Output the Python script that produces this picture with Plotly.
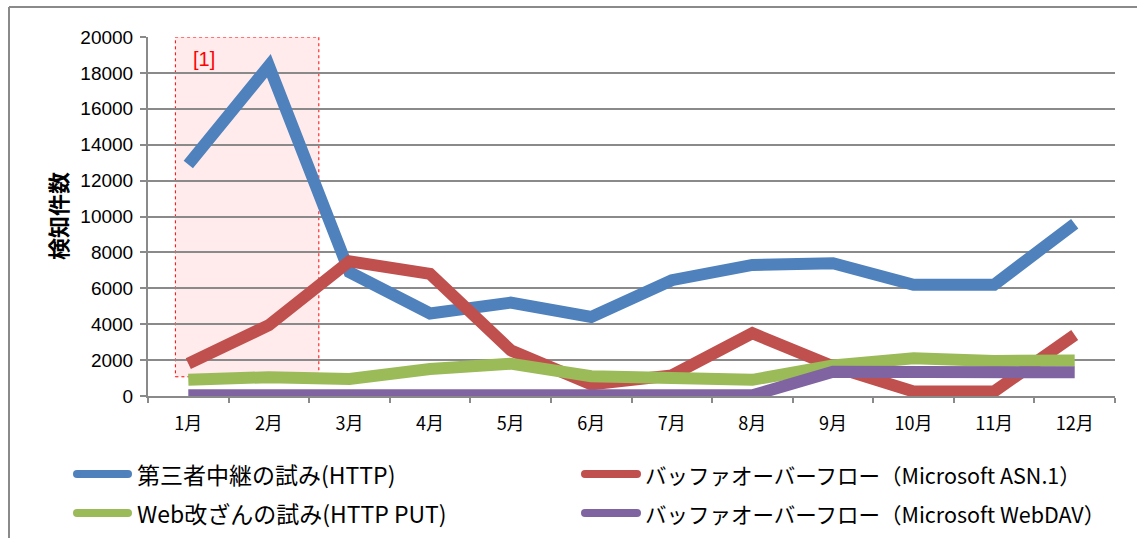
import plotly.graph_objects as go

# Monthly detection counts per attack type
months = ["1月", "2月", "3月", "4月", "5月", "6月", "7月", "8月", "9月", "10月", "11月", "12月"]

relay_http = [12900, 18400, 6900, 4600, 5200, 4400, 6450, 7300, 7400, 6200, 6200, 9600]
overflow_asn1 = [1800, 3950, 7500, 6800, 2550, 650, 1150, 3500, 1650, 250, 250, 3400]
web_put = [900, 1050, 950, 1500, 1800, 1100, 1000, 900, 1700, 2100, 1950, 1980]
overflow_webdav = [40, 40, 40, 40, 40, 40, 40, 40, 1350, 1350, 1280, 1320]

series_names = [
    "第三者中継の試み(HTTP)",
    "バッファオーバーフロー（Microsoft ASN.1）",
    "Web改ざんの試み(HTTP PUT)",
    "バッファオーバーフロー（Microsoft WebDAV）",
]
series_values = [relay_http, overflow_asn1, web_put, overflow_webdav]
series_colors = ["#4F81BD", "#C0504D", "#9BBB59", "#8064A2"]

y_ticks = [0, 2000, 4000, 6000, 8000, 10000, 12000, 14000, 16000, 18000, 20000]

# Highlighted period [1]
highlight_label = "[1]"
highlight_x = (-0.16, 1.62)
highlight_y = (1070, 20000)

num_font = "Liberation Sans, Arial, Noto Sans CJK JP"
jp_font = "Noto Sans CJK JP, Liberation Sans"

W, H = 1137, 538
L, R, T, B = 148, 22, 37, 142
pw, ph = W - L - R, H - T - B

def px_x(p):
    return (p - L) / pw

def px_y(p):
    return (H - B - p) / ph

# 2x2 key below the plot: (sample start, sample end, text start, row centre, font size) in pixels
key_slots = [
    (73, 132, 135, 474, 23),
    (581, 641, 643, 474, 21.5),
    (73, 132, 135, 513, 23),
    (581, 641, 643, 513, 21.5),
]

fig = go.Figure()

for name, vals, color in zip(series_names, series_values, series_colors):
    fig.add_trace(go.Scatter(
        x=months, y=vals, name=name, mode="lines",
        line=dict(color=color, width=12),
        showlegend=False,
    ))

shapes = [
    # highlighted region
    dict(type="rect", xref="x", yref="y",
         x0=highlight_x[0], x1=highlight_x[1], y0=highlight_y[0], y1=highlight_y[1],
         fillcolor="rgba(255,0,0,0.08)", line=dict(color="#FF0000", width=1, dash="dot"),
         layer="below"),
    # chart frame (top and left edges)
    dict(type="line", xref="paper", yref="paper",
         x0=px_x(9), x1=px_x(W + 5), y0=px_y(7), y1=px_y(7),
         line=dict(color="#8a8a8a", width=2)),
    dict(type="line", xref="paper", yref="paper",
         x0=px_x(9), x1=px_x(9), y0=px_y(7), y1=px_y(H + 5),
         line=dict(color="#8a8a8a", width=2)),
]

annotations = [
    dict(text=highlight_label, xref="x", yref="y", x=0.2, y=18780,
         showarrow=False, font=dict(color="#FF0000", size=20, family=num_font)),
    dict(text="<b>検知件数</b>", xref="paper", yref="paper",
         x=px_x(57), y=px_y(216), xanchor="center", yanchor="middle",
         textangle=-90, showarrow=False,
         font=dict(size=22, family=jp_font, color="#000000")),
]

# key entries: rounded line sample followed by the series name
for name, color, (s0, s1, tx, ry, fs) in zip(series_names, series_colors, key_slots):
    shapes.append(dict(type="line", xref="paper", yref="paper",
                       x0=px_x(s0 + 4), x1=px_x(s1 - 4), y0=px_y(ry), y1=px_y(ry),
                       line=dict(color=color, width=8)))
    shapes.append(dict(type="circle", xref="paper", yref="paper",
                       x0=px_x(s0), x1=px_x(s0 + 8), y0=px_y(ry - 4), y1=px_y(ry + 4),
                       fillcolor=color, line=dict(width=0)))
    shapes.append(dict(type="circle", xref="paper", yref="paper",
                       x0=px_x(s1 - 8), x1=px_x(s1), y0=px_y(ry - 4), y1=px_y(ry + 4),
                       fillcolor=color, line=dict(width=0)))
    annotations.append(dict(text=name, xref="paper", yref="paper",
                            x=px_x(tx), y=px_y(ry), xanchor="left", yanchor="middle",
                            showarrow=False,
                            font=dict(size=fs, family=jp_font, color="#000000")))

fig.update_layout(
    width=W, height=H,
    margin=dict(l=L, r=R, t=T, b=B, autoexpand=False),
    paper_bgcolor="white", plot_bgcolor="white",
    showlegend=False,
    shapes=shapes,
    annotations=annotations,
    xaxis=dict(
        type="category", range=[-0.5, 11.5], automargin=False,
        showline=True, linecolor="#8a8a8a", linewidth=2,
        ticks="outside", tickson="boundaries", ticklen=5, tickcolor="#8a8a8a", tickwidth=2,
        showgrid=False, tickfont=dict(size=18, family=jp_font, color="#000000"),
        ticklabelstandoff=10,
    ),
    yaxis=dict(
        range=[0, 20000], tickvals=y_ticks, tickformat="d", automargin=False,
        showline=True, linecolor="#8a8a8a", linewidth=2,
        ticks="outside", ticklen=6, tickcolor="#8a8a8a", tickwidth=2,
        showgrid=True, gridcolor="#8a8a8a", gridwidth=2, zeroline=False,
        tickfont=dict(size=19, family=num_font, color="#000000"),
        ticklabelstandoff=3,
    ),
)

fig.write_html("out.html")
